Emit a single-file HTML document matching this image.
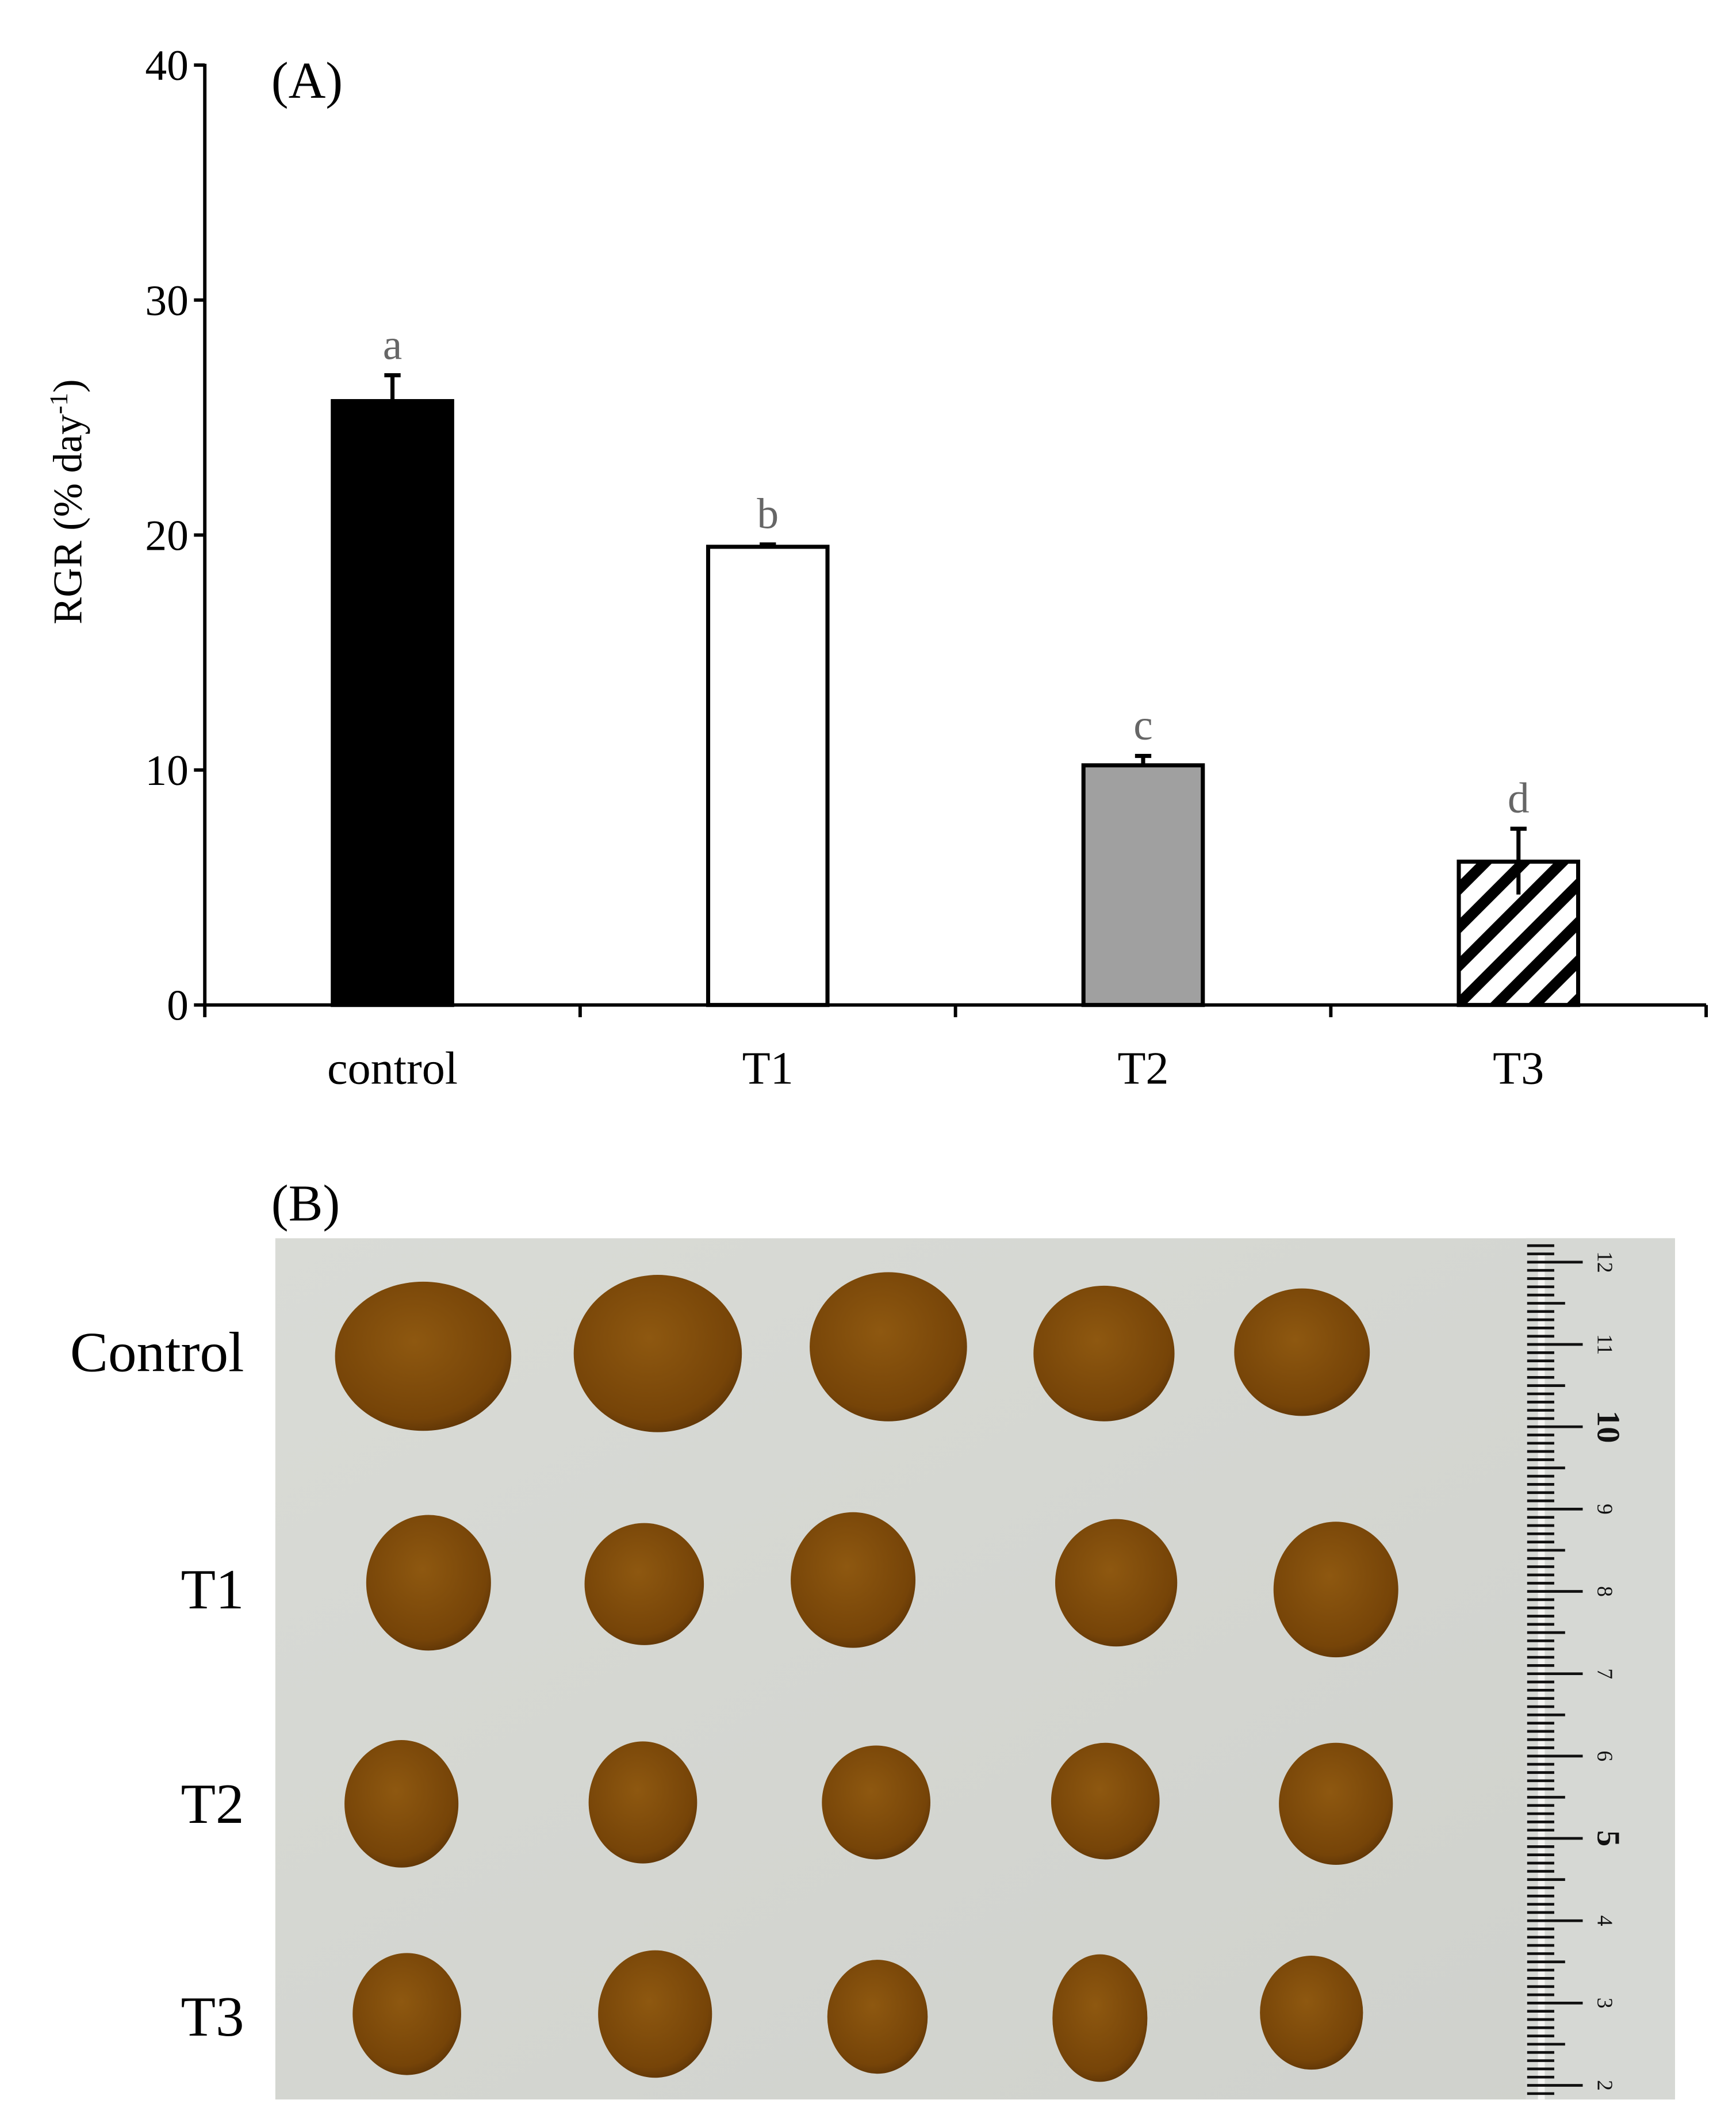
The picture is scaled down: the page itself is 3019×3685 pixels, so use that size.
<!DOCTYPE html>
<html><head><meta charset="utf-8"><style>
html,body{margin:0;padding:0;background:#fff;}
svg{display:block;}
text{font-family:"Liberation Serif",serif;}
</style></head><body>
<svg id="fig" xmlns="http://www.w3.org/2000/svg" width="3019" height="3685" viewBox="0 0 1280 1562.4">
<defs>
<pattern id="hatch" patternUnits="userSpaceOnUse" width="20" height="20" patternTransform="rotate(45)">
<rect width="20" height="20" fill="#fff"/><rect width="8" height="20" fill="#000"/>
</pattern>
<radialGradient id="amber" cx="0.45" cy="0.4" r="0.65">
<stop offset="0" stop-color="#8e5810"/><stop offset="0.8" stop-color="#764408"/><stop offset="1" stop-color="#5a3206"/>
</radialGradient>
<linearGradient id="bg" x1="0" y1="0" x2="1" y2="1">
<stop offset="0" stop-color="#d9dbd6"/><stop offset="1" stop-color="#cfd1cc"/>
</linearGradient>
</defs>
<g id="chart"></g>
<g id="photo"></g>
</svg>
<script>
const categories = ["control","T1","T2","T3"];
const values = [25.7, 19.5, 10.2, 6.1];
const errors = [1.1, 0.1, 0.4, 1.4];
const sigLetters = ["a","b","c","d"];
const yTicks = [0,10,20,30,40];

const NS="http://www.w3.org/2000/svg";
function mk(tag, attrs, parent){const e=document.createElementNS(NS,tag);for(const k in attrs)e.setAttribute(k,attrs[k]);parent.appendChild(e);return e;}
const chart=document.getElementById('chart');
const X0=151, X1=1258, Y0=741, Ytop=48, ymax=40;
function y(v){return Y0-(v/ymax)*(Y0-Ytop);}
const band=(X1-X0)/categories.length;
function xc(i){return X0+band*(i+0.5);}
const barW=88;
const fills=["#000","#fff","#a0a0a0","url(#hatch)"];

let ax=mk('line',{x1:X0,y1:Ytop-1,x2:X0,y2:Y0+1,stroke:'#000','stroke-width':2.5},chart);


let bx=mk('line',{x1:X0-1,y1:Y0,x2:X1,y2:Y0,stroke:'#000','stroke-width':2.5},chart);


yTicks.forEach(t=>{
  const l=mk('line',{x1:X0-8,y1:y(t),x2:X0,y2:y(t),stroke:'#000','stroke-width':2.5},chart);
  
  
  const tx=mk('text',{x:X0-12,y:y(t)+11,'font-size':32,'text-anchor':'end'},chart);
  tx.textContent=t;
  
  
});
for(let i=0;i<=categories.length;i++){
  const xx=X0+band*i;
  const l=mk('line',{x1:xx,y1:Y0,x2:xx,y2:Y0+9,stroke:'#000','stroke-width':2.5},chart);
  
  
}
categories.forEach((c,i)=>{
  const cx=xc(i);
  const top=y(values[i]);
  const eTop=y(values[i]+errors[i]), eBot=y(values[i]-errors[i]);
  const eb=mk('path',{d:`M${cx},${eBot}L${cx},${eTop}M${cx-6},${eTop}L${cx+6},${eTop}`+(i==2?`M${cx-6},${eBot}L${cx+6},${eBot}`:''),stroke:'#000','stroke-width':3,fill:'none'},chart);
  
  
  const r=mk('rect',{x:cx-barW/2,y:top,width:barW,height:Y0-top,fill:fills[i],stroke:'#000','stroke-width':3},chart);
  
  
  if(i==3){const e2=mk('line',{x1:cx,y1:top,x2:cx,y2:eBot,stroke:'#000','stroke-width':3},chart);
    
    }
  const lt=mk('text',{x:cx,y:eTop-12,'font-size':32,'text-anchor':'middle',fill:'#666'},chart);
  lt.textContent=sigLetters[i];
  
  
  const cl=mk('text',{x:cx,y:799,'font-size':34,'text-anchor':'middle'},chart);
  cl.textContent=c;
  
  
});
const yt=mk('text',{transform:'translate(60,370) rotate(-90)','font-size':30,'text-anchor':'middle'},chart);
yt.innerHTML='RGR (% day<tspan baseline-shift="super" font-size="19">-1</tspan>)';


const pa=mk('text',{x:200,y:72,'font-size':38},chart);
pa.textContent='(A)';



const ph=document.getElementById('photo');
const pb=mk('text',{x:200,y:900,'font-size':38},ph);
pb.textContent='(B)';


const bgR=mk('rect',{x:203,y:913,width:1032,height:635,fill:'url(#bg)'},ph);


const rows=["Control","T1","T2","T3"];
const rowY=[997,1172,1330,1487];
rows.forEach((r,i)=>{
  const t=mk('text',{x:180,y:rowY[i]+14,'font-size':42,'text-anchor':'end'},ph);
  t.textContent=r;
  
  
});
const blobs=[[312,1000,65,55],[485,998,62,58],[655,993,58,55],[814,998,52,50],[960,997,50,47],
[316,1167,46,50],[475,1168,44,45],[629,1165,46,50],[823,1167,45,47],[985,1172,46,50],
[296,1330,42,47],[474,1329,40,45],[646,1329,40,42],[815,1328,40,43],[985,1330,42,45],
[300,1485,40,45],[483,1485,42,47],[647,1487,37,42],[811,1488,35,47],[967,1484,38,42]];
blobs.forEach((b,k)=>{
  const e=mk('ellipse',{cx:b[0],cy:b[1],rx:b[2],ry:b[3],fill:'url(#amber)'},ph);
  
  
});
const ru=mk('g',{},ph);


mk('rect',{x:1125,y:913,width:110,height:635,fill:'#d6d8d4'},ru);
mk('rect',{x:1134,y:925,width:5,height:623,fill:'#f4f4f2'},ru);
for(let mm=-3;mm<=105;mm++){
  const yy=930.6+mm*6.07; if(yy>1548||yy<915)continue;
  const cm=(mm%10==0), half=(mm%5==0);
  mk('line',{x1:1126,y1:yy,x2:cm?1167:(half?1154:1146),y2:yy,stroke:'#111','stroke-width':2},ru);
  if(cm){const n=12-mm/10;
    const t=mk('text',{transform:`translate(${1178},${yy}) rotate(90)`,'font-size':n==10||n==5?24:16,'text-anchor':'middle','font-family':'Liberation Sans','font-weight':n==10||n==5?'bold':'normal',fill:'#111'},ru);
    t.textContent=n;}
}
</script>
</body></html>
